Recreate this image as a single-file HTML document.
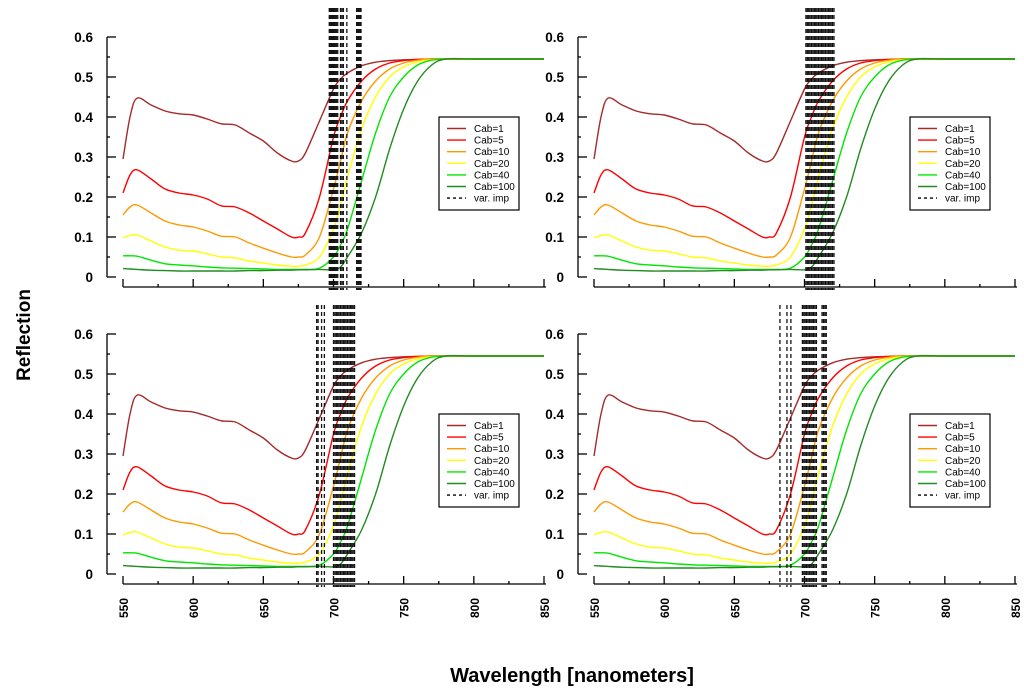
<!DOCTYPE html>
<html><head><meta charset="utf-8"><style>
body{margin:0;background:#fff;}
svg{display:block;font-family:"Liberation Sans",sans-serif;}
</style></head><body>
<svg id="chart" width="1024" height="695" viewBox="0 0 1024 695" xmlns="http://www.w3.org/2000/svg">
<text x="0" y="0" transform="translate(30,335) rotate(-90)" text-anchor="middle" font-size="19" font-weight="bold">Reflection</text>
<text x="572" y="682" text-anchor="middle" font-size="20" font-weight="bold">Wavelength [nanometers]</text>
</svg>
<script>
const wavelengths=[550,555,560,570,580,590,600,610,620,630,640,650,660,670,675,680,690,700,705,710,720,730,740,750,760,770,780,800,850];
const cab1=[0.295,0.40,0.447,0.43,0.415,0.408,0.405,0.395,0.383,0.38,0.36,0.34,0.31,0.29,0.29,0.31,0.39,0.47,0.495,0.51,0.528,0.537,0.541,0.543,0.544,0.545,0.545,0.545,0.545];
const cab5=[0.21,0.255,0.268,0.245,0.22,0.21,0.205,0.195,0.178,0.175,0.16,0.14,0.12,0.10,0.10,0.11,0.20,0.35,0.40,0.44,0.49,0.52,0.535,0.541,0.544,0.545,0.545,0.545,0.545];
const cab10=[0.155,0.175,0.18,0.16,0.14,0.13,0.125,0.115,0.102,0.10,0.085,0.072,0.06,0.05,0.05,0.055,0.10,0.22,0.29,0.36,0.44,0.49,0.52,0.535,0.542,0.545,0.545,0.545,0.545];
const cab20=[0.098,0.104,0.105,0.09,0.075,0.067,0.065,0.058,0.05,0.048,0.04,0.035,0.03,0.027,0.027,0.03,0.05,0.12,0.18,0.25,0.37,0.45,0.50,0.525,0.538,0.543,0.545,0.545,0.545];
const cab40=[0.053,0.053,0.052,0.042,0.033,0.030,0.028,0.025,0.023,0.022,0.021,0.020,0.019,0.019,0.019,0.019,0.022,0.05,0.08,0.12,0.24,0.36,0.45,0.50,0.53,0.542,0.545,0.545,0.545];
const cab100=[0.021,0.020,0.019,0.017,0.016,0.015,0.015,0.015,0.015,0.015,0.016,0.016,0.017,0.017,0.018,0.018,0.019,0.018,0.025,0.05,0.11,0.20,0.32,0.42,0.49,0.53,0.545,0.545,0.545];
const seriesNames=["Cab=1","Cab=5","Cab=10","Cab=20","Cab=40","Cab=100"];
const seriesColors=["#a52a2a","#ff0000","#ff9900","#ffff00","#00e600","#228b22"];
const seriesData=[cab1,cab5,cab10,cab20,cab40,cab100];
const impTopLeft=[697,697.7,698.4,699.1,699.8,700.5,701.2,702,703,705,706,707,709.5,716.5,717.3,718,718.8,719.6];
const impTopRight=[701,702,703,704,705,706,707,708,709,710,711,712,713,714,715,716,717,718,719,720,721];
const impBottomLeft=[688,689,691.5,693.5,700,701,702,703,704,705,706,707,708,709,710,711,712,713,714,715];
const impBottomRight=[682.5,687.5,690.3,698.5,699.5,700.5,701.5,702.5,703.5,704.5,705.5,706.5,707.5,708.5,712.5,713.5,714.5,715.5];
const xTickLabels=["550","600","650","700","750","800","850"];
const yTickLabels=["0","0.1","0.2","0.3","0.4","0.5","0.6"];

const NS="http://www.w3.org/2000/svg";
const svg=document.getElementById('chart');
function mk(tag,attrs,parent){const e=document.createElementNS(NS,tag);for(const k in attrs)e.setAttribute(k,attrs[k]);(parent||svg).appendChild(e);return e;}
function smooth(pts){let d="M"+pts[0][0].toFixed(1)+","+pts[0][1].toFixed(1);
 for(let i=0;i<pts.length-1;i++){const p0=pts[Math.max(0,i-1)],p1=pts[i],p2=pts[i+1],p3=pts[Math.min(pts.length-1,i+2)];
 const c1=[p1[0]+(p2[0]-p0[0])/6,p1[1]+(p2[1]-p0[1])/6],c2=[p2[0]-(p3[0]-p1[0])/6,p2[1]-(p3[1]-p1[1])/6];
 d+="C"+c1[0].toFixed(1)+","+c1[1].toFixed(1)+" "+c2[0].toFixed(1)+","+c2[1].toFixed(1)+" "+p2[0].toFixed(1)+","+p2[1].toFixed(1);}
 return d;}

function panel(ox,oy,imp,name,showXLabels){
 const g=mk('g',{});
 
 
 const x0=123+ox, pxPer=(421)/300;
 const xs=w=>x0+(w-550)*pxPer;
 const yBase=277+oy, yTop=37+oy;
 const ys=v=>yBase-(v/0.6)*(yBase-yTop);
 const axisY=287+oy, yAxisX=107+ox;
 const ya=mk('line',{x1:yAxisX,y1:yTop,x2:yAxisX,y2:yBase,stroke:'#000','stroke-width':1.3},g);
 
 
 for(let i=0;i<=12;i++){const v=i*0.05,y=ys(v),maj=i%2===0;
  mk('line',{x1:yAxisX,y1:y,x2:yAxisX+(maj?9:3),y2:y,stroke:'#000','stroke-width':1.3},g);
  if(maj){const t=mk('text',{x:yAxisX-14,y:y+5,'text-anchor':'end','font-size':13.5,'font-weight':'bold'},g);t.textContent=yTickLabels[i/2];
   
   }}
 const xa=mk('line',{x1:x0,y1:axisY,x2:x0+421+2,y2:axisY,stroke:'#000','stroke-width':1.3},g);
 
 
 for(let i=0;i<=12;i++){const w=550+i*25,x=xs(w),maj=i%2===0;
  mk('line',{x1:x,y1:axisY,x2:x,y2:axisY-(maj?8:3),stroke:'#000','stroke-width':1.3},g);
  if(maj&&showXLabels){const t=mk('text',{x:0,y:0,transform:`translate(${x+5},${axisY+24}) rotate(-90)`,'text-anchor':'middle','font-size':12,'font-weight':'bold'},g);t.textContent=xTickLabels[i/2];
   
   }}
 for(let s=0;s<seriesData.length;s++){
  const pts=wavelengths.map((w,i)=>[xs(w),ys(seriesData[s][i])]);
  const p=mk('path',{d:smooth(pts),fill:'none',stroke:seriesColors[s],'stroke-width':1.4},g);
  
  
 }
 for(const w of imp){const x=xs(w);
  const l=mk('line',{x1:x,y1:8+oy,x2:x,y2:axisY+3,stroke:'#111','stroke-width':1.3,'stroke-dasharray':'4,3'},g);
  
  }
 const lx=439+ox, ly=117+oy;
 const lg=mk('g',{},g);
 
 
 mk('rect',{x:lx,y:ly,width:80,height:93,fill:'#fff',stroke:'#000','stroke-width':1.2},lg);
 const names=seriesNames.concat(["var. imp"]);
 for(let i=0;i<7;i++){const y=ly+11.5+i*11.6;
  const ln=mk('line',{x1:lx+8,y1:y,x2:lx+27,y2:y,stroke:i<6?seriesColors[i]:'#000','stroke-width':1.4},lg);
  if(i===6)ln.setAttribute('stroke-dasharray','3,3');
  const t=mk('text',{x:lx+35,y:y+3.5,'font-size':10},lg);t.textContent=names[i];
  
  }
}
panel(0,0,impTopLeft,'panel-top-left',false);
panel(471,0,impTopRight,'panel-top-right',false);
panel(0,297,impBottomLeft,'panel-bottom-left',true);
panel(471,297,impBottomRight,'panel-bottom-right',true);
</script>
</body></html>
